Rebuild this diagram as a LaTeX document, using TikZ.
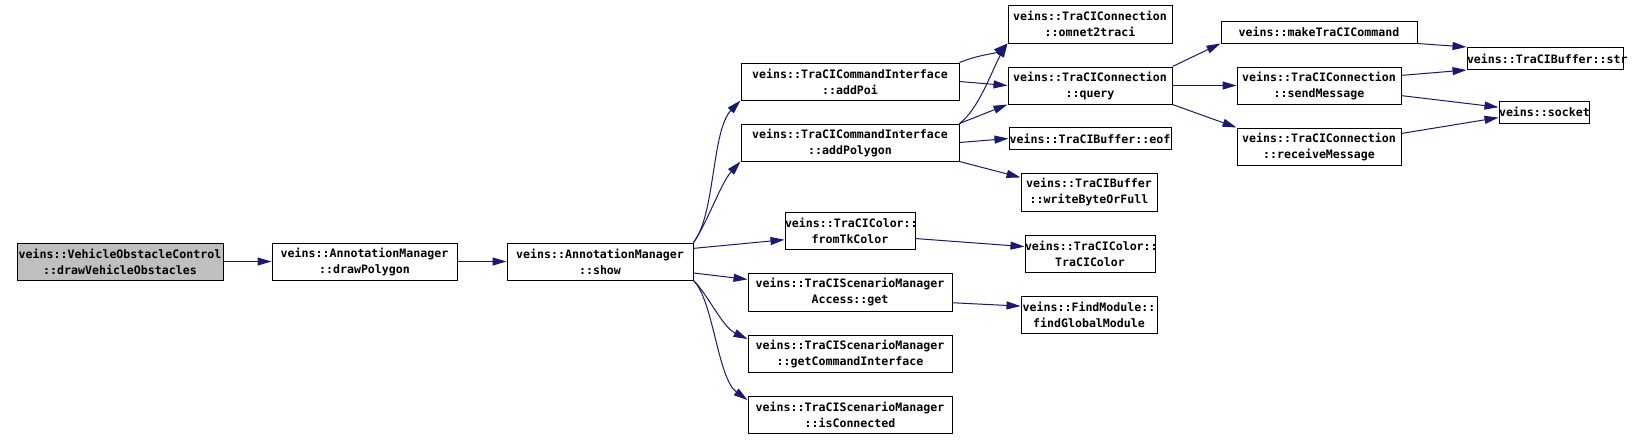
\documentclass[tikz,border=0pt]{standalone}
\usepackage{fontspec}
\usepackage{tikz}
\usetikzlibrary{arrows.meta}
\newfontfamily\dxfont[HyphenChar=None]{DejaVu Sans Mono}
\definecolor{edgeblue}{HTML}{191970}
\definecolor{mainfill}{HTML}{BFBFBF}

\begin{document}
\begin{tikzpicture}[
    x=0.5pt, y=0.5pt, % one unit = one pixel of the graph
    node font=\dxfont\bfseries\fontsize{5.8}{8}\selectfont,
    fn/.style={draw=black, line width=0.5pt, fill=white, inner sep=0pt,
               align=center, text width=#1, minimum width=#1, minimum height=18.5pt},
    fnone/.style={fn=#1, minimum height=11pt},
    call/.style={draw=edgeblue, line width=0.5pt, -{Triangle[length=7pt, width=4pt]}}
]
  \useasboundingbox[fill=white] (0,0) rectangle (1639,-440);

  % --- CALLER CHAIN ---
  \node[fn=103pt, fill=mainfill] (voc) at (120,-261.5) {veins::VehicleObstacleControl\\::drawVehicleObstacles};
  \node[fn=92.5pt] (drawpoly) at (364.5,-261.5) {veins::AnnotationManager\\::drawPolygon};
  \node[fn=93pt] (show) at (600,-261.5) {veins::AnnotationManager\\::show};

  % --- COLUMN 1 ---
  \node[fn=109pt] (addpoi) at (850,-81.5) {veins::TraCICommandInterface\\::addPoi};
  \node[fn=109pt] (addpolygon) at (850,-142.5) {veins::TraCICommandInterface\\::addPolygon};
  \node[fn=65pt] (fromtk) at (850,-230.5) {veins::TraCIColor::\\fromTkColor};
  \node[fn=102pt, minimum height=19pt] (access) at (850,-292) {veins::TraCIScenarioManager\\Access::get};
  \node[fn=102pt] (getcmd) at (850,-353.5) {veins::TraCIScenarioManager\\::getCommandInterface};
  \node[fn=102pt] (isconn) at (850,-414.5) {veins::TraCIScenarioManager\\::isConnected};

  % --- COLUMN 2 ---
  \node[fn=82pt, minimum height=19pt] (omnet) at (1090,-24) {veins::TraCIConnection\\::omnet2traci};
  \node[fn=82pt] (query) at (1090,-85.5) {veins::TraCIConnection\\::query};
  \node[fnone=81pt] (eof) at (1090,-138.5) {veins::TraCIBuffer::eof};
  \node[fn=68pt, minimum height=19pt] (writebyte) at (1089,-192) {veins::TraCIBuffer\\::writeByteOrFull};
  \node[fn=65pt] (tracicolor) at (1090,-253.5) {veins::TraCIColor::\\TraCIColor};
  \node[fn=68pt] (findglobal) at (1089,-314.5) {veins::FindModule::\\findGlobalModule};

  % --- COLUMN 3 ---
  \node[fnone=98pt] (maketraci) at (1319,-32) {veins::makeTraCICommand};
  \node[fn=82pt] (sendmsg) at (1319,-85.5) {veins::TraCIConnection\\::sendMessage};
  \node[fn=82pt] (recvmsg) at (1319,-146.5) {veins::TraCIConnection\\::receiveMessage};

  % --- COLUMN 4 ---
  \node[fnone=78pt] (str) at (1545,-58.5) {veins::TraCIBuffer::str};
  \node[fnone=45pt] (socket) at (1544,-112) {veins::socket};

  % --- CALLS ---
  \draw[call] (voc) -- (drawpoly);
  \draw[call] (drawpoly) -- (show);
  \draw[call] (show.north east) .. controls +(22,28) and +(-29,-30) .. (addpoi.south west);
  \draw[call] (show.north east) .. controls +(15,22) and +(-20,-22) .. (addpolygon.south west);
  \draw[call] (show.8) -- (fromtk.188);
  \draw[call] (show.-7) -- (access.173);
  \draw[call] (show.south east) .. controls +(15,-15) and +(-25,12) .. (getcmd.172);
  \draw[call] (show.south east) .. controls +(20,-20) and +(-30,22) .. (isconn.172);

  \draw[call] (addpoi.north east) .. controls +(20,8) and +(-12,-10) .. (omnet.south west);
  \draw[call] (addpoi.east) -- (query.west);
  \draw[call] (addpolygon.north east) .. controls +(20,15) and +(-15,-25) .. (omnet.south west);
  \draw[call] (addpolygon.north east) -- (query.south west);
  \draw[call] (addpolygon.east) -- (eof.west);
  \draw[call] (addpolygon.south east) -- (writebyte.168);
  \draw[call] (fromtk.-7) -- (tracicolor.174);
  \draw[call] (access.-6) -- (findglobal.173);

  \draw[call] (query.north east) -- (maketraci.south west);
  \draw[call] (query.east) -- (sendmsg.west);
  \draw[call] (query.south east) -- (recvmsg.north west);

  \draw[call] (maketraci.south east) -- (str.north west);
  \draw[call] (sendmsg.7) -- (str.south west);
  \draw[call] (sendmsg.-7) -- (socket.174);
  \draw[call] (recvmsg.9) -- (socket.187);

\end{tikzpicture}
\end{document}
